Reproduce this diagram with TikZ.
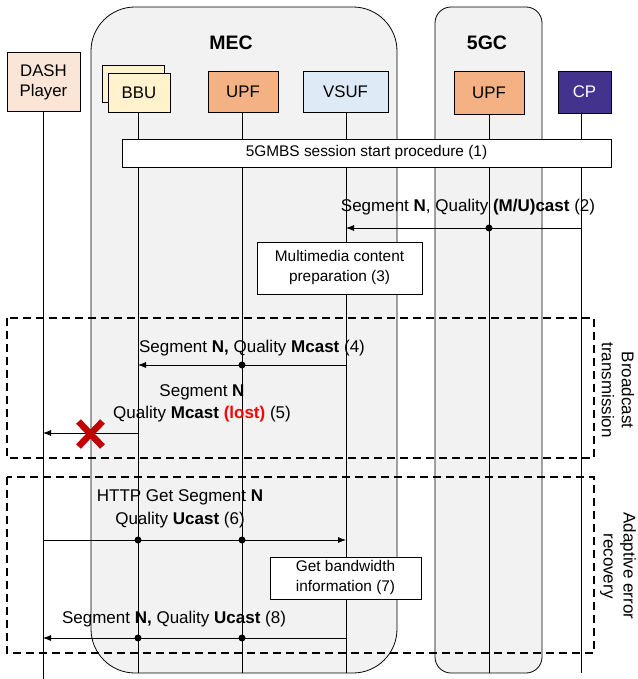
\documentclass[tikz,border=0pt]{standalone}
\usepackage{fontspec}
\setmainfont{Liberation Sans}
\usetikzlibrary{arrows.meta,calc,positioning}
%
\definecolor{dashfill}{HTML}{FBE5D6}
\definecolor{bbufill}{HTML}{FFF2CC}
\definecolor{upffill}{HTML}{F4B183}
\definecolor{vsuffill}{HTML}{DEEBF7}
\definecolor{cpfill}{HTML}{43338C}
\definecolor{groupfill}{HTML}{F2F2F2}
\definecolor{crossred}{HTML}{C00000}
%
\tikzset{
  actor/.style={draw,line width=0.8pt,inner sep=0pt,align=center,
                font=\fontsize{16.8}{20}\selectfont},
  group/.style={draw,fill=groupfill,line width=0.8pt,inner sep=0pt},
  grouplabel/.style={font=\fontsize{19.5}{22}\selectfont\bfseries},
  procbox/.style={draw,fill=white,line width=0.8pt,inner sep=0pt,align=center,
                  font=\fontsize{15.4}{20}\selectfont},
  lifeline/.style={line width=0.8pt},
  msg/.style={line width=0.8pt,-{Latex[length=8pt,width=6pt]}},
  msglabel/.style={inner sep=0pt,align=center,font=\fontsize{17}{22.5}\selectfont},
  phase/.style={line width=1.8pt,dash pattern=on 8pt off 5pt},
  phaselabel/.style={rotate=-90,align=center,font=\fontsize{17}{20}\selectfont},
}
%
\begin{document}
\begin{tikzpicture}[x=1pt,y=-1pt]
%
  \useasboundingbox (0,0) rectangle (637,679) ;
%
  \node [group,rounded corners=44pt,minimum width=306pt,minimum height=666pt] (mec) at (244,340) {} ;
  \node [group,rounded corners=16pt,minimum width=107pt,minimum height=666pt] (fgc) at (488.5,340) {} ;
  \node [grouplabel] (meclabel) at (231,43) {MEC} ;
  \node [grouplabel] (fgclabel) at (487,43) {5GC} ;
%
  \coordinate (dashbot) at (43,679) ;
  \coordinate (bbubot)  at (138,673) ;
  \coordinate (upfmbot) at (242,673) ;
  \coordinate (vsufbot) at (346,673) ;
  \coordinate (upfcbot) at (489,673) ;
  \coordinate (cpbot)   at (581,673) ;
%
  \draw [lifeline] (43,112) -- (dashbot) ;
  \draw [lifeline] (138,112) -- (bbubot) ;
  \draw [lifeline] (242,112) -- (upfmbot) ;
  \draw [lifeline] (346,112) -- (vsufbot) ;
  \draw [lifeline] (489,114) -- (upfcbot) ;
  \draw [lifeline] (581,113) -- (cpbot) ;
%
  \node [actor,fill=dashfill,minimum width=73pt,minimum height=59pt] (dash) at (43.5,82) {DASH\\Player} ;
  \node [actor,fill=bbufill,minimum width=62pt,minimum height=37pt] (bbuback) at (133,83.5) {} ;
  \node [actor,fill=bbufill,minimum width=62pt,minimum height=39pt] (bbu) at (139,92.5) {BBU} ;
  \node [actor,fill=upffill,minimum width=70pt,minimum height=41pt] (upfm) at (243,91.5) {UPF} ;
  \node [actor,fill=vsuffill,minimum width=85pt,minimum height=41pt] (vsuf) at (345.5,91.5) {VSUF} ;
  \node [actor,fill=upffill,minimum width=70pt,minimum height=43pt] (upfc) at (489,92.5) {UPF} ;
  \node [actor,fill=cpfill,text=white,minimum width=53pt,minimum height=42pt] (cp) at (584.5,92) {CP} ;
%
  % message levels
  \coordinate (y2) at (0,228) ;
  \coordinate (y4) at (0,365) ;
  \coordinate (y5) at (0,433) ;
  \coordinate (y6) at (0,540) ;
  \coordinate (y8) at (0,638) ;
%
  \node [procbox,minimum width=489pt,minimum height=28pt] (session) at (366.5,153) {5GMBS session start procedure (1)} ;
  \node [procbox,minimum width=165pt,minimum height=52pt] (prep) at (339.5,268) {Multimedia content\\preparation (3)} ;
  \node [procbox,minimum width=151pt,minimum height=42pt] (bw) at (345.5,578) {Get bandwidth\\information (7)} ;
%
  \draw [msg] (cpbot |- y2) -- (vsufbot |- y2) ;
  \fill (upfcbot |- y2) circle (3.5pt) ;
  \node [msglabel] (l2) at (468,207) {Segment \textbf{N}, Quality \textbf{(M/U)cast} (2)} ;
%
  \draw [msg] (vsufbot |- y4) -- (bbubot |- y4) ;
  \fill (upfmbot |- y4) circle (3.5pt) ;
  \node [msglabel] (l4) at (252,348) {Segment \textbf{N,} Quality \textbf{Mcast} (4)} ;
%
  \draw [msg] (bbubot |- y5) -- (dashbot |- y5) ;
  \node [msglabel] (l5) at (202,403.5) {Segment \textbf{N}\\Quality \textbf{Mcast} \textcolor{red}{\textbf{(lost)}} (5)} ;
  \coordinate (lost) at (90.5,434) ;
  \draw [crossred,line width=6.5pt] ($(lost)+(-12,-12.5)$) -- ($(lost)+(12,12.5)$)
                                    ($(lost)+(-12,12.5)$) -- ($(lost)+(12,-12.5)$) ;
%
  \draw [msg] (dashbot |- y6) -- (vsufbot |- y6) ;
  \fill (bbubot |- y6) circle (3.5pt) ;
  \fill (upfmbot |- y6) circle (3.5pt) ;
  \node [msglabel] (l6) at (180,509) {HTTP Get Segment \textbf{N}\\Quality \textbf{Ucast} (6)} ;
%
  \draw [msg] (vsufbot |- y8) -- (dashbot |- y8) ;
  \fill (bbubot |- y8) circle (3.5pt) ;
  \fill (upfmbot |- y8) circle (3.5pt) ;
  \node [msglabel] (l8) at (174,619) {Segment \textbf{N,} Quality \textbf{Ucast} (8)} ;
%
  \draw [phase] (7,318) rectangle (594,458) ;
  \node [phaselabel] (bcast) at (618,390) {Broadcast\\transmission} ;
  \draw [phase] (7,477) rectangle (594,653) ;
  \node [phaselabel] (recov) at (618,566) {Adaptive error\\recovery} ;
%
\end{tikzpicture}
\end{document}
